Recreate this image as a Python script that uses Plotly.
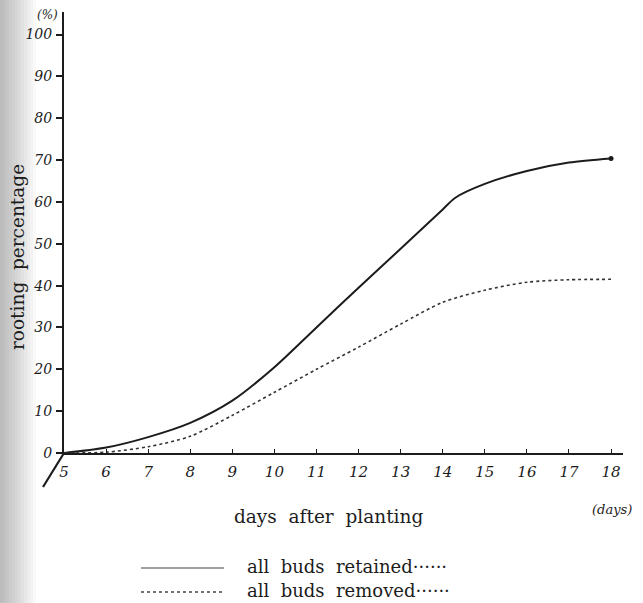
import plotly.graph_objects as go

# ---- data ----
days = [5, 6, 7, 8, 9, 10, 11, 12, 13, 14, 14.3, 15, 16, 17, 18]
retained = [0, 1.3, 3.8, 7.2, 12.5, 20.5, 30, 39.5, 48.8, 58.2, 61, 64.3, 67.4, 69.4, 70.4]
days_removed = [5, 6, 7, 8, 9, 10, 11, 12, 13, 14, 15, 16, 17, 18]
removed = [0, 0.2, 1.5, 4, 9, 14.5, 20, 25.3, 30.8, 36, 38.9, 40.8, 41.4, 41.5]
x_ticks = list(range(5, 19))
y_ticks = [0, 10, 20, 30, 40, 50, 60, 70, 80, 90, 100]
y_ticktext = ["0", "10", "20", "30", "40", "50", "60", "70", "80", "90", "100"]

W, H = 643, 603
ML, MR, MT, MB = 64, 20, 12, 150
PW, PH = W - ML - MR, H - MT - MB

def px(xp):
    return (xp - ML) / PW

def py(yp):
    return (H - MB - yp) / PH

ink = "#1c1c1c"
hand = dict(family="DejaVu Serif", size=14, color=ink, style="italic")
serif = "DejaVu Serif"
sp = "\u00a0"

fig = go.Figure()
fig.add_trace(go.Scatter(x=days, y=retained, mode="lines",
                         line=dict(color=ink, width=2, shape="spline", smoothing=0.8),
                         name="all buds retained", showlegend=False, cliponaxis=False))
fig.add_trace(go.Scatter(x=[days[-1]], y=[retained[-1]], mode="markers",
                         marker=dict(color=ink, size=5), showlegend=False, cliponaxis=False))
fig.add_trace(go.Scatter(x=days_removed, y=removed, mode="lines",
                         line=dict(color="#333333", width=1.6, dash="dot", shape="spline", smoothing=0.8),
                         name="all buds removed", showlegend=False, cliponaxis=False))

shapes = []
# scanned-page shading on the left edge
for w in range(3, 39, 3):
    shapes.append(dict(type="rect", xref="paper", yref="paper", x0=px(0), x1=px(w),
                       y0=py(H), y1=py(0), fillcolor="rgba(0,0,0,0.024)", line=dict(width=0),
                       layer="below"))
# slash at origin
shapes.append(dict(type="line", xref="paper", yref="paper", x0=px(64), y0=py(453),
                   x1=px(43), y1=py(487), line=dict(color=ink, width=2.2)))
# legend samples
shapes.append(dict(type="line", xref="paper", yref="paper", x0=px(141), x1=px(224),
                   y0=py(568), y1=py(568), line=dict(color="#444", width=1.2)))
shapes.append(dict(type="line", xref="paper", yref="paper", x0=px(141), x1=px(224),
                   y0=py(592), y1=py(592), line=dict(color="#444", width=1.6, dash="dot")))

annotations = [
    dict(text="(%)", xref="paper", yref="paper", x=px(47), y=py(15), showarrow=False,
         xanchor="center", yanchor="middle",
         font=dict(family="DejaVu Serif", size=12, color=ink, style="italic")),
    dict(text="(days)", xref="paper", yref="paper", x=px(612), y=py(509), showarrow=False,
         xanchor="center", yanchor="middle",
         font=dict(family="DejaVu Serif", size=13, color=ink, style="italic")),
    dict(text="days" + sp + " after" + sp + " planting", xref="paper", yref="paper",
         x=px(328), y=py(516), xanchor="center", yanchor="middle",
         showarrow=False, font=dict(family=serif, size=18.5, color=ink)),
    dict(text="rooting" + sp + " percentage", xref="paper", yref="paper", x=px(17), y=py(257),
         xanchor="center", yanchor="middle",
         showarrow=False, textangle=-90, font=dict(family=serif, size=18.5, color=ink)),
    dict(text="all" + sp + " buds" + sp + " retained······", xref="paper", yref="paper",
         x=px(245), y=py(566), xanchor="left", yanchor="middle", showarrow=False,
         font=dict(family=serif, size=18, color=ink)),
    dict(text="all" + sp + " buds" + sp + " removed······", xref="paper", yref="paper",
         x=px(245), y=py(590), xanchor="left", yanchor="middle", showarrow=False,
         font=dict(family=serif, size=18, color=ink)),
]

fig.update_layout(
    width=W, height=H,
    margin=dict(l=ML, r=MR, t=MT, b=MB, autoexpand=False),
    paper_bgcolor="white", plot_bgcolor="white",
    shapes=shapes, annotations=annotations,
    xaxis=dict(range=[5, 5 + PW / 42.08], tickvals=x_ticks, ticktext=[str(v) for v in x_ticks],
               ticks="inside", ticklen=4, tickcolor=ink, tickwidth=1.2,
               showline=True, linecolor=ink, linewidth=1.5, showgrid=False, zeroline=False,
               tickfont=dict(family="DejaVu Serif", size=15, color=ink, style="italic"),
               ticklabelstandoff=4, fixedrange=True),
    yaxis=dict(range=[0, PH / 4.185], tickvals=y_ticks, ticktext=y_ticktext,
               ticks="outside", ticklen=6, tickcolor=ink, tickwidth=1.5,
               showline=True, linecolor=ink, linewidth=2, showgrid=False, zeroline=False,
               tickfont=hand, ticklabelstandoff=1, fixedrange=True),
)

fig.write_html("out.html", post_script="document.body.style.margin='0';",
               config={"displayModeBar": False})
